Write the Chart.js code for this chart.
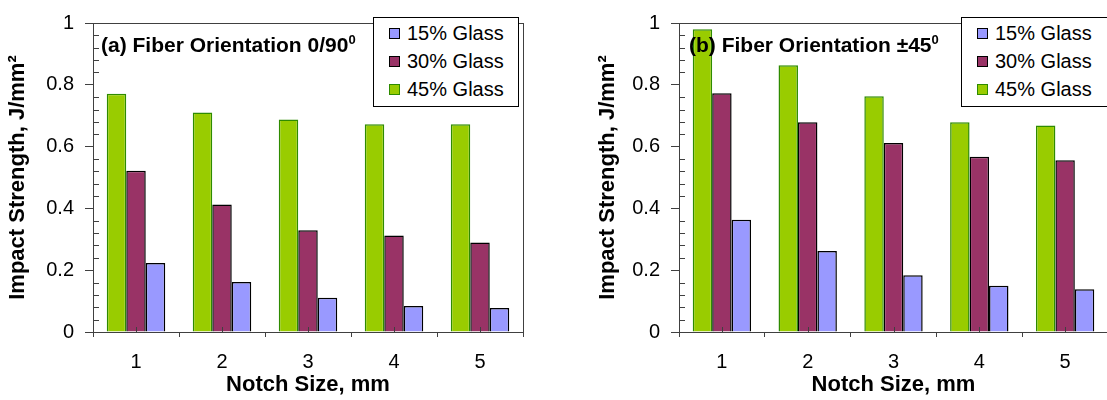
<!DOCTYPE html>
<html>
<head>
<meta charset="utf-8">
<script src="https://cdn.jsdelivr.net/npm/chart.js@4"></script>
<style>
  html, body { margin: 0; padding: 0; background: #fff; overflow: hidden; }
  body { width: 1107px; height: 400px; position: relative; font-family: "Liberation Sans", Arial, sans-serif; }
  .panel { position: absolute; top: 0; }
  .ptitle { position: absolute; font-weight: bold; font-size: 21px; color: #000; white-space: nowrap; }
  .ptitle sup { font-size: 13px; }
  .legend { position: absolute; border: 1px solid #000; background: #fff; width: 146px; height: 90px; box-sizing: border-box; }
  .legend .row { position: absolute; left: 15px; height: 22px; font-size: 20px; line-height: 22px; white-space: nowrap; }
  .legend .sw { display: inline-block; width: 9px; height: 9px; border: 1.5px solid #000; margin-right: 7px; vertical-align: 1px; }
</style>
</head>
<body>
<div class="panel" style="left:0"><canvas id="chartA" width="553" height="400"></canvas></div>
<div class="panel" style="left:553px"><canvas id="chartB" width="562" height="400"></canvas></div>
<div class="ptitle" style="left:101px; top:32px">(a) Fiber Orientation 0/90<sup>0</sup></div>
<div class="ptitle" style="left:689px; top:32px">(b) Fiber Orientation ±45<sup>0</sup></div>
<div class="legend" id="legA" style="left:373px; top:17px"></div>
<div class="legend" id="legB" style="left:961px; top:17px; width:150px"></div>
<script>
// notch sizes
const categories = ["1", "2", "3", "4", "5"];
const seriesNames = ["45% Glass", "30% Glass", "15% Glass"];
const fills = ["#99CC00", "#993366", "#9999FF"];
const borders = ["#2E8B00", "#000000", "#000000"];

// (a) fiber orientation 0/90
const a45 = [0.771, 0.71, 0.688, 0.672, 0.672];
const a30 = [0.522, 0.413, 0.329, 0.312, 0.29];
const a15 = [0.223, 0.162, 0.111, 0.084, 0.078];

// (b) fiber orientation +-45
const b45 = [0.98, 0.863, 0.763, 0.679, 0.668];
const b30 = [0.773, 0.679, 0.612, 0.567, 0.556];
const b15 = [0.363, 0.262, 0.184, 0.15, 0.138];

const yMin = 0, yMax = 1, yStep = 0.2, yMinorStep = 0.04;

Chart.defaults.font.family = '"Liberation Sans", Arial, sans-serif';
Chart.defaults.color = "#000";

const axisColor = "#404040";

/* marco del área y marcas menores */
const framePlugin = {
  id: "frame",
  afterDatasetsDraw(chart) {
    const { ctx, chartArea: a, scales } = chart;
    ctx.save();
    ctx.strokeStyle = axisColor;
    ctx.lineWidth = 1;
    ctx.strokeRect(a.left + 0.5, a.top + 0.5, a.right - a.left, a.bottom - a.top);
    ctx.beginPath();
    for (let v = yMin; v <= yMax + 1e-9; v += yMinorStep) {
      const r = Math.round(v / yStep);
      if (Math.abs(v - r * yStep) < 1e-6) continue;
      const py = Math.round(scales.y.getPixelForValue(v)) + 0.5;
      ctx.moveTo(a.left, py);
      ctx.lineTo(a.left + 6, py);
    }
    for (let i = 0; i < categories.length; i++) {
      const px = Math.round(scales.x.getPixelForValue(i)) + 0.5;
      ctx.moveTo(px, a.bottom);
      ctx.lineTo(px, a.bottom - 5);
    }
    ctx.stroke();
    ctx.restore();
  }
};

function makeChart(id, data, padLeft, padRight, yWidth) {
  return new Chart(document.getElementById(id), {
    type: "bar",
    data: {
      labels: categories,
      datasets: data.map((vals, i) => ({
        label: seriesNames[i],
        data: vals,
        backgroundColor: fills[i],
        borderColor: borders[i],
        borderWidth: 1.5,
        categoryPercentage: 0.68,
        barPercentage: 1.0,
      })),
    },
    options: {
      responsive: false,
      animation: false,
      layout: { padding: { left: padLeft, right: padRight, top: 15, bottom: 0 } },
      plugins: { legend: { display: false }, tooltip: { enabled: false } },
      scales: {
        x: {
          grid: { drawOnChartArea: false, drawTicks: true, tickLength: 5, color: axisColor },
          border: { display: true, color: axisColor },
          ticks: { font: { size: 20 }, padding: 13, color: "#000" },
          title: { display: true, text: "Notch Size, mm", font: { size: 22, weight: "bold" }, padding: { top: 0, bottom: 2 } },
          afterFit: (s) => { s.height = 68; },
        },
        y: {
          min: yMin,
          max: yMax,
          grid: { drawOnChartArea: false, drawTicks: true, tickLength: 8, color: axisColor },
          border: { display: true, color: axisColor },
          ticks: {
            stepSize: yStep,
            font: { size: 20 },
            padding: 11,
            color: "#000",
            callback: (v) => String(Number(v.toFixed(1))),
          },
          title: { display: true, text: "Impact Strength, J/mm²", font: { size: 22, weight: "bold" }, padding: { top: 5, bottom: 0 } },
          afterFit: (s) => { s.width = yWidth; },
        },
      },
    },
    plugins: [framePlugin],
  });
}

makeChart("chartA", [a45, a30, a15], 0, 30, 93);
makeChart("chartB", [b45, b30, b15], 37, 7, 89);

/* leyenda en orden inverso: 15, 30, 45 */
function buildLegend(id) {
  const box = document.getElementById(id);
  const rows = [2, 1, 0];
  rows.forEach((k, j) => {
    const row = document.createElement("div");
    row.className = "row";
    row.style.top = (4 + j * 28) + "px";
    const sw = document.createElement("span");
    sw.className = "sw";
    sw.style.background = fills[k];
    sw.style.borderColor = borders[k];
    row.appendChild(sw);
    row.appendChild(document.createTextNode(seriesNames[k]));
    box.appendChild(row);
  });
}
buildLegend("legA");
buildLegend("legB");
</script>
</body>
</html>
